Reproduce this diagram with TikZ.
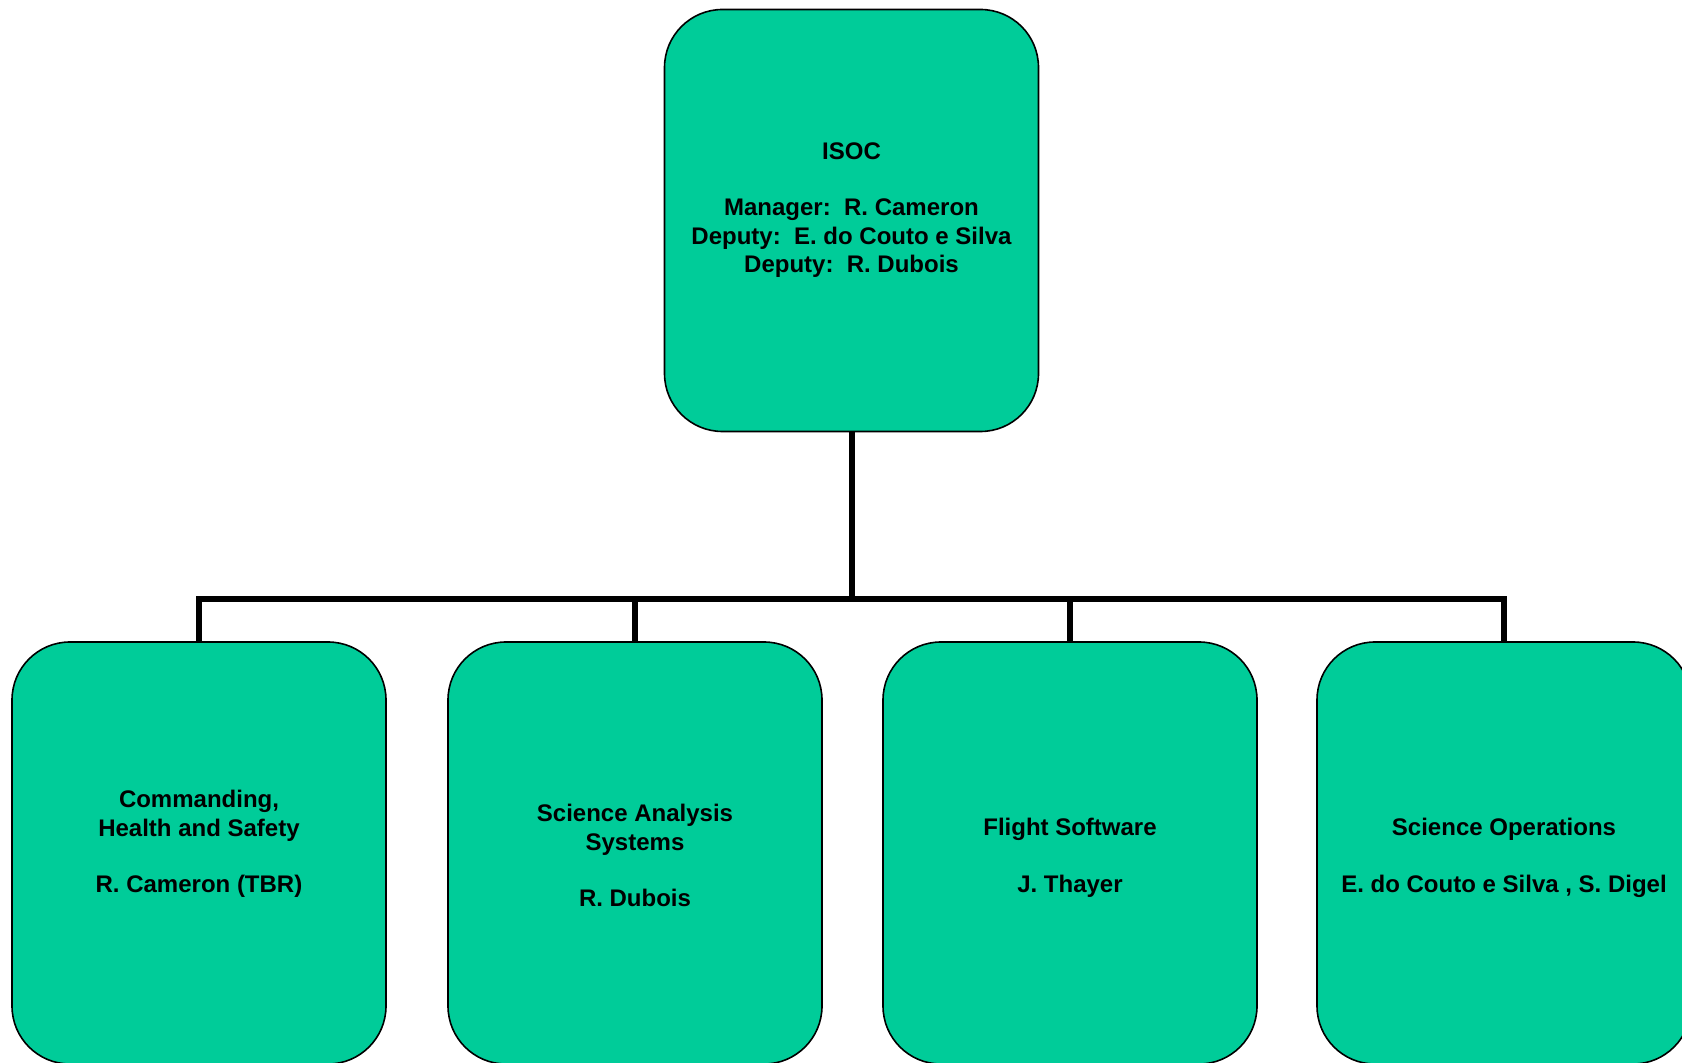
\documentclass[tikz,border=0pt]{standalone}
\usepackage{fontspec}
\setmainfont{Liberation Sans}
\usepackage{tikz}
\definecolor{boxgreen}{RGB}{0,204,153}

\begin{document}
\begin{tikzpicture}[x=0.5pt, y=-0.5pt,
    font=\fontsize{12pt}{14.15pt}\selectfont\bfseries,
    unit/.style={draw=black, line width=0.8pt, fill=boxgreen, rounded corners=29pt,
        minimum width=187pt, minimum height=211pt, inner sep=0pt},
    unittext/.style={anchor=north, align=center, inner sep=0pt},
    link/.style={line width=3pt}]
    \clip (0, 0) rectangle (1682, 1063);

    \node (isoc) [unit] at (851.5, 220.5) {};
    \node (cmd) [unit] at (199, 853) {};
    \node (sas) [unit] at (635, 853) {};
    \node (fsw) [unit] at (1070, 853) {};
    \node (sop) [unit] at (1504, 853) {};

    \node (isoc-txt) [unittext] at (851.5, 142) {ISOC\\[14.15pt] Manager:\ \ R. Cameron\\ Deputy:\ \ E. do Couto e Silva\\ Deputy:\ \ R. Dubois};
    \node (cmd-txt) [unittext] at (199, 790) {Commanding,\\ Health and Safety\\[14.15pt] R. Cameron (TBR)};
    \node (sas-txt) [unittext] at (635, 804) {Science Analysis\\ Systems\\[14.15pt] R. Dubois};
    \node (fsw-txt) [unittext] at (1070, 818) {Flight Software\\[14.15pt] J. Thayer};
    \node (sop-txt) [unittext] at (1504, 818) {Science Operations\\[14.15pt] E. do Couto e Silva , S. Digel};

    \coordinate (bus) at (851.5, 599);
    \draw[link] (isoc) -- (bus);
    \draw[link] (cmd.north) |- (bus) -| (sop.north);
    \draw[link] (sas.north) -- (sas.north |- bus);
    \draw[link] (fsw.north) -- (fsw.north |- bus);
\end{tikzpicture}
\end{document}
